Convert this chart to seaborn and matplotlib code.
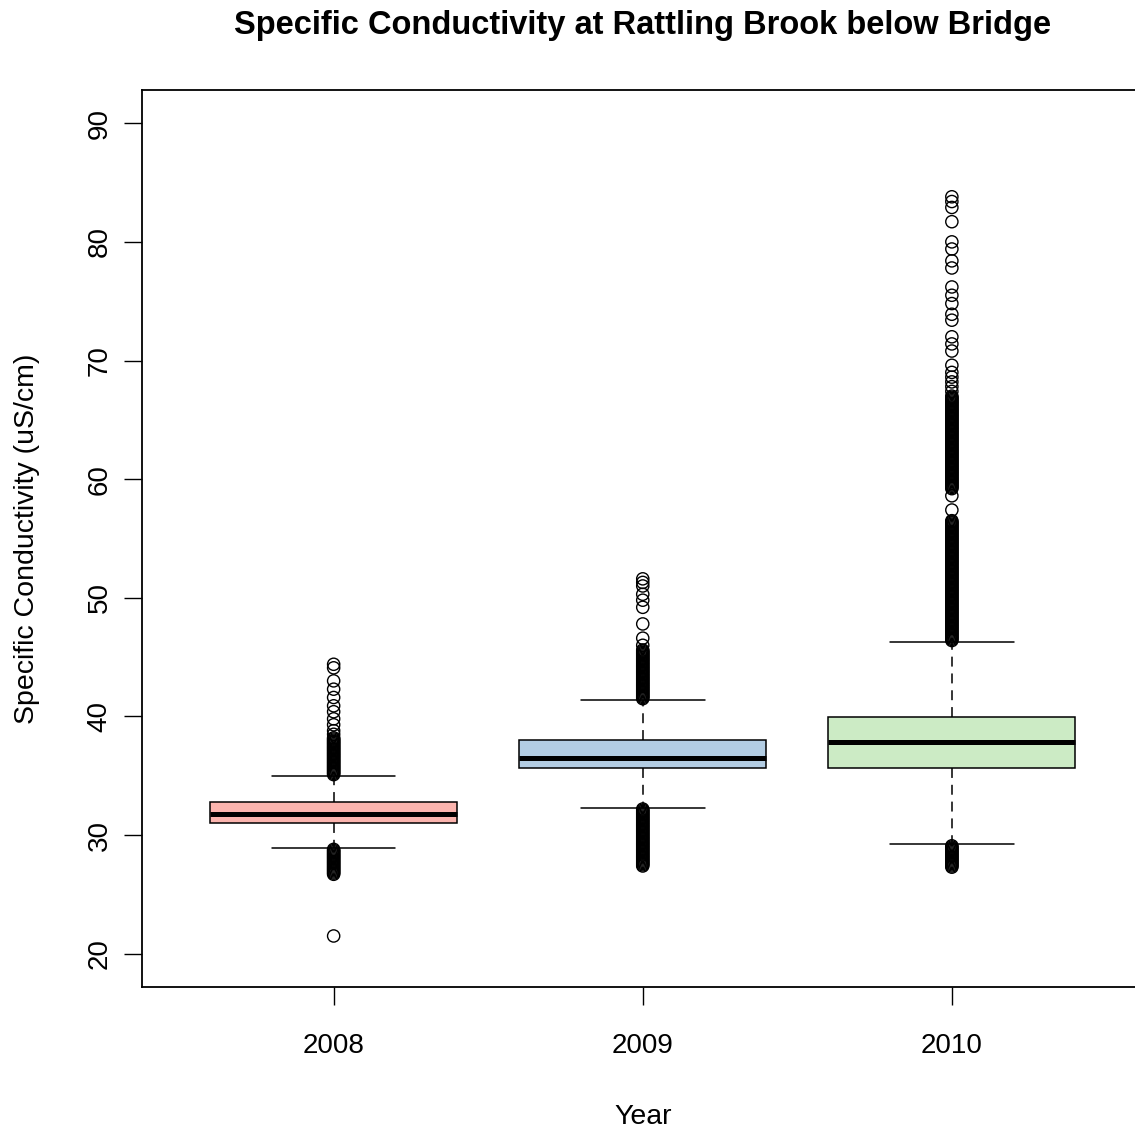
import matplotlib
matplotlib.use("Agg")
import matplotlib.pyplot as plt
import pandas as pd
import seaborn as sns

# ---------------- data ----------------
years = ["2008", "2009", "2010"]
box_colors = ["#FBB4AE", "#B3CDE3", "#CCEBC5"]

whisker_low = [28.88, 32.28, 29.25]
q1 = [31.05, 35.62, 35.62]
median = [31.78, 36.47, 37.82]
q3 = [32.76, 38.01, 39.93]
whisker_high = [34.98, 41.39, 46.28]

out_2008 = [
    44.4, 44.1, 43.0, 42.3, 41.6, 40.9, 40.4, 39.8, 39.3, 38.8, 38.5,
    38.2, 38.1, 38.0, 37.9, 37.8, 37.7, 37.6, 37.5, 37.4, 37.3,
    37.2, 37.1, 37.0, 36.9, 36.8, 36.7, 36.6, 36.5, 36.4, 36.3,
    36.2, 36.1, 36.0, 35.9, 35.8, 35.7, 35.6, 35.5, 35.4, 35.3,
    35.2, 35.1,
    28.8, 28.7, 28.6, 28.5, 28.4, 28.3, 28.2, 28.1, 28.0, 27.9,
    27.8, 27.7, 27.6, 27.5, 27.4, 27.3, 27.2, 27.1, 27.0, 26.9,
    26.8, 26.7,
    21.5,
]

out_2009 = [
    51.6, 51.3, 51.0, 50.3, 49.8, 49.2, 47.8, 46.6, 46.0,
    45.6, 45.5, 45.4, 45.3, 45.2, 45.1, 45.0, 44.9, 44.8, 44.7,
    44.6, 44.5, 44.4, 44.3, 44.2, 44.1, 44.0, 43.9, 43.8, 43.7,
    43.6, 43.5, 43.4, 43.3, 43.2, 43.1, 43.0, 42.9, 42.8, 42.7,
    42.6, 42.5, 42.4, 42.3, 42.2, 42.1, 42.0, 41.9, 41.8, 41.7,
    41.6, 41.5,
    32.2, 32.1, 32.0, 31.9, 31.8, 31.7, 31.6, 31.5, 31.4, 31.3,
    31.2, 31.1, 31.0, 30.9, 30.8, 30.7, 30.6, 30.5, 30.4, 30.3,
    30.2, 30.1, 30.0, 29.9, 29.8, 29.7, 29.6, 29.5, 29.4, 29.3,
    29.2, 29.1, 29.0, 28.9, 28.8, 28.7, 28.6, 28.5, 28.4, 28.3,
    28.2, 28.1, 28.0, 27.9, 27.8, 27.7, 27.6, 27.5, 27.4,
]

out_2010 = [
    83.8, 83.4, 82.9, 81.7, 80.0, 79.4, 78.4, 77.8, 76.2, 75.5,
    74.8, 73.9, 73.4, 72.0, 71.4, 70.8, 69.6, 69.0, 68.6, 68.2,
    67.8, 67.4,
    67.0, 66.9, 66.8, 66.7, 66.6, 66.5, 66.4, 66.3, 66.2, 66.1,
    66.0, 65.9, 65.8, 65.7, 65.6, 65.5, 65.4, 65.3, 65.2, 65.1,
    65.0, 64.9, 64.8, 64.7, 64.6, 64.5, 64.4, 64.3, 64.2, 64.1,
    64.0, 63.9, 63.8, 63.7, 63.6, 63.5, 63.4, 63.3, 63.2, 63.1,
    63.0, 62.9, 62.8, 62.7, 62.6, 62.5, 62.4, 62.3, 62.2, 62.1,
    62.0, 61.9, 61.8, 61.7, 61.6, 61.5, 61.4, 61.3, 61.2, 61.1,
    61.0, 60.9, 60.8, 60.7, 60.6, 60.5, 60.4, 60.3, 60.2, 60.1,
    60.0, 59.9, 59.8, 59.7, 59.6, 59.5, 59.4, 59.3, 59.2,
    58.6, 57.4,
    56.5, 56.4, 56.3, 56.2, 56.1,
    56.0, 55.9, 55.8, 55.7, 55.6, 55.5, 55.4, 55.3, 55.2, 55.1,
    55.0, 54.9, 54.8, 54.7, 54.6, 54.5, 54.4, 54.3, 54.2, 54.1,
    54.0, 53.9, 53.8, 53.7, 53.6, 53.5, 53.4, 53.3, 53.2, 53.1,
    53.0, 52.9, 52.8, 52.7, 52.6, 52.5, 52.4, 52.3, 52.2, 52.1,
    52.0, 51.9, 51.8, 51.7, 51.6, 51.5, 51.4, 51.3, 51.2, 51.1,
    51.0, 50.9, 50.8, 50.7, 50.6, 50.5, 50.4, 50.3, 50.2, 50.1,
    50.0, 49.9, 49.8, 49.7, 49.6, 49.5, 49.4, 49.3, 49.2, 49.1,
    49.0, 48.9, 48.8, 48.7, 48.6, 48.5, 48.4, 48.3, 48.2, 48.1,
    48.0, 47.9, 47.8, 47.7, 47.6, 47.5, 47.4, 47.3, 47.2, 47.1,
    47.0, 46.9, 46.8, 46.7, 46.6, 46.5, 46.4,
    29.1, 29.0, 28.9, 28.8, 28.7, 28.6, 28.5, 28.4, 28.3, 28.2,
    28.1, 28.0, 27.9, 27.8, 27.7, 27.6, 27.5, 27.4, 27.3,
]

title = "Specific Conductivity at Rattling Brook below Bridge"
x_label = "Year"
y_label = "Specific Conductivity (uS/cm)"
y_ticks = [20, 30, 40, 50, 60, 70, 80, 90]

# ---------------- frames ----------------
box_rows = []
for i, yr in enumerate(years):
    for v in (whisker_low[i], q1[i], median[i], q3[i], whisker_high[i]):
        box_rows.append({"year": yr, "value": v})
box_df = pd.DataFrame(box_rows)

out_rows = []
for yr, vals in zip(years, (out_2008, out_2009, out_2010)):
    for v in vals:
        out_rows.append({"year": yr, "value": v})
out_df = pd.DataFrame(out_rows)

# ---------------- style ----------------
sns.set_style("ticks")
plt.rcParams["font.family"] = ["Liberation Sans", "DejaVu Sans"]
plt.rcParams["text.color"] = "black"
plt.rcParams["axes.labelcolor"] = "black"

fig = plt.figure(figsize=(11.35, 11.30), dpi=100)
ax = fig.add_axes([142 / 1135, 143 / 1130, 1001.5 / 1135, 897 / 1130])

lw = 1.1
sns.boxplot(
    data=box_df, x="year", y="value",
    hue="year", order=years, hue_order=years, palette=box_colors,
    saturation=1, legend=False, width=0.8, whis=(0, 100), showfliers=False,
    linecolor="black", linewidth=lw,
    medianprops=dict(color="black", linewidth=3.6, solid_capstyle="butt"),
    whiskerprops=dict(color="black", linewidth=lw, linestyle=(0, (6.5, 4.5))),
    capprops=dict(color="black", linewidth=lw),
    boxprops=dict(edgecolor="black", linewidth=lw),
    ax=ax,
)

sns.stripplot(
    data=out_df, x="year", y="value", order=years, jitter=False,
    size=8.8, marker="o", color="black", edgecolor="black",
    linewidth=1.0, facecolor="none", ax=ax,
)
for coll in ax.collections:
    coll.set_facecolor("none")
    coll.set_edgecolor("black")

ax.set_xlim(-0.62, 2.62)
ax.set_ylim(17.2, 92.8)
ax.set_yticks(y_ticks)
ax.set_yticklabels([str(t) for t in y_ticks])

for side in ("left", "right", "top", "bottom"):
    ax.spines[side].set_visible(True)
    ax.spines[side].set_linewidth(1.3)
    ax.spines[side].set_color("black")

ax.tick_params(axis="both", direction="out", length=13, width=1.0,
               color="black", labelsize=20, labelcolor="black")
ax.tick_params(axis="x", pad=20)
ax.tick_params(axis="y", pad=8)
for lab in ax.get_yticklabels():
    lab.set_rotation(90)
    lab.set_verticalalignment("center")

ax.set_title(title, fontsize=23.5, fontweight="bold", pad=40)
ax.set_xlabel(x_label, fontsize=20.5)
ax.set_ylabel(y_label, fontsize=20.5)
ax.xaxis.set_label_coords(0.5, -0.1304)
ax.yaxis.set_label_coords(-0.102, 0.5)

fig.savefig("out.png", dpi=100)
